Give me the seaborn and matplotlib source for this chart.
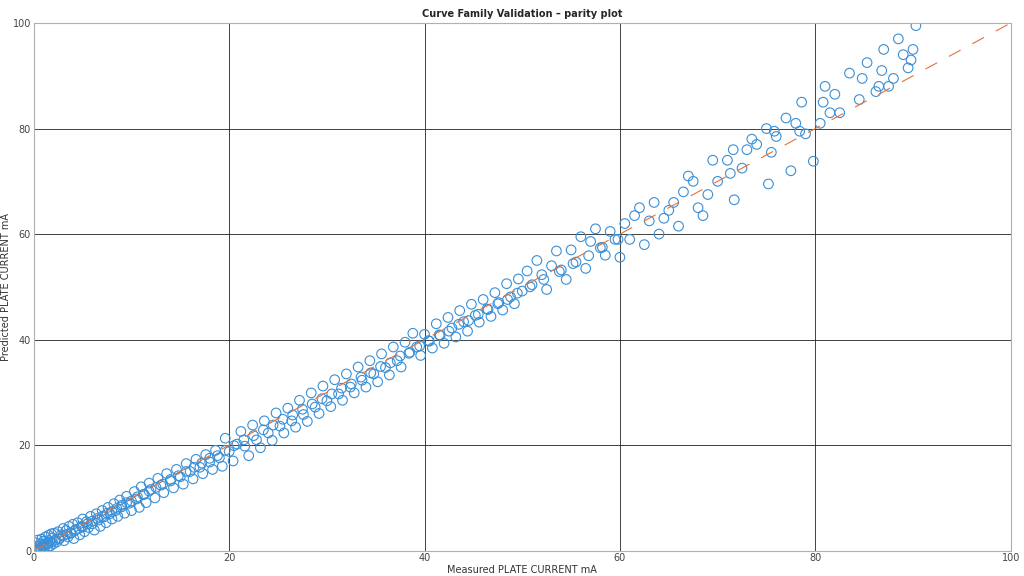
import matplotlib
matplotlib.use("Agg")
import matplotlib.pyplot as plt
import seaborn as sns
import numpy as np

# measured vs predicted plate current (mA)
measured = [
    0.1, 0.2, 0.3, 0.4, 0.5, 0.6, 0.7, 0.8, 0.9, 1.0, 1.1, 1.2, 1.3, 1.4, 1.5, 1.6, 1.7, 1.8, 1.9, 2.0,
    2.1, 2.3, 2.5, 2.6, 2.8, 3.0, 3.1, 3.3, 3.5, 3.6, 3.8, 4.0, 4.1, 4.3, 4.5, 4.7, 4.9, 5.0, 5.2, 5.4,
    5.6, 5.8, 6.0, 6.2, 6.4, 6.6, 6.8, 7.0, 7.2, 7.4, 7.6, 7.8, 8.0, 8.2, 8.4, 8.6, 8.8, 9.0, 9.3, 9.5,
    9.8, 10.0, 10.3, 10.5, 10.8, 11.0, 11.3, 11.5, 11.8, 12.0, 12.4, 12.7, 13.0, 13.3, 13.6, 14.0, 14.3, 14.6,
    15.0, 15.3, 15.6, 16.0, 16.3, 16.6, 17.0, 17.3, 17.6, 18.0, 18.3, 18.6, 19.0, 19.3, 19.6, 20.0, 20.4, 20.8,
    21.2, 21.6, 22.0, 22.4, 22.8, 23.2, 23.6, 24.0, 24.4, 24.8, 25.2, 25.6, 26.0, 26.4, 26.8, 27.2, 27.6, 28.0,
    28.4, 28.8, 29.2, 29.6, 30.0, 30.4, 30.8, 31.2, 31.6, 32.0, 32.4, 32.8, 33.2, 33.6, 34.0, 34.4, 34.8, 35.2,
    35.6, 36.0, 36.4, 36.8, 37.2, 37.6, 38.0, 38.4, 38.8, 39.2, 39.6, 40.0, 40.4, 40.8, 41.2, 41.6, 42.0, 42.4,
    42.8, 43.2, 43.6, 44.0, 44.4, 44.8, 45.2, 45.6, 46.0, 46.4, 46.8, 47.2, 47.6, 48.0, 48.4, 48.8, 49.2, 49.6,
    50.0, 50.5, 51.0, 51.5, 52.0, 52.5, 53.0, 53.5, 54.0, 54.5, 55.0, 55.5, 56.0, 56.5, 57.0, 57.5, 58.0, 58.5,
    59.0, 59.5, 60.0, 60.5, 61.0, 61.5, 62.0, 62.5, 63.0, 63.5, 64.0, 64.5, 65.0, 65.5, 66.0, 66.5, 67.0, 67.5,
    68.0, 68.5, 69.0, 69.5, 70.0, 71.0, 71.3, 71.6, 71.7, 72.5, 73.0, 73.5, 74.0, 75.0, 75.2, 75.5, 75.8, 76.0,
    77.0, 77.5, 78.0, 78.4, 78.6, 79.0, 79.8, 80.5, 80.8, 81.0, 81.5, 82.0, 82.5, 83.5, 84.5, 84.8, 85.3, 86.2,
    86.5, 86.8, 87.0, 87.5, 88.0, 88.5, 89.0, 89.5, 89.8, 90.0, 90.3,
    0.3, 0.6, 0.9, 1.2, 1.5, 1.8, 2.2, 2.6, 3.0, 3.4, 3.8, 4.2, 4.6, 5.0, 5.5, 6.0, 6.5, 7.0, 7.5, 8.0,
    8.5, 9.0, 9.5, 10.0, 10.6, 11.2, 11.8, 12.5, 13.2, 14.0, 14.8, 15.6, 16.4, 17.2, 18.0, 18.8, 19.6, 20.5,
    21.5, 22.5, 23.5, 24.5, 25.5, 26.5, 27.5, 28.5, 29.5, 30.5, 31.5, 32.5, 33.5, 34.5, 35.5, 36.5, 37.5, 38.5,
    39.5, 40.5, 41.5, 42.5, 43.5, 44.5, 45.5, 46.5, 47.5, 48.5, 49.5, 50.8, 52.2, 53.8, 55.2, 56.8, 58.2, 59.8,
]
predicted = [
    0.5, 1.5, 0.2, 2.0, 0.8, 1.2, 0.3, 2.2, 1.0, 1.8, 0.6, 2.6, 1.4, 0.5, 2.9, 1.9, 0.9, 3.2, 2.4, 1.3,
    3.3, 1.6, 3.6, 2.2, 3.0, 4.2, 1.9, 3.8, 2.6, 4.6, 3.3, 5.0, 2.3, 4.0, 5.3, 3.0, 4.6, 6.0, 3.6, 5.5,
    4.4, 6.5, 5.1, 3.9, 7.0, 5.8, 4.6, 7.6, 6.4, 5.3, 8.2, 7.0, 6.0, 8.9, 7.6, 6.5, 9.6, 8.3, 7.1, 10.3,
    9.0, 7.6, 11.2, 9.8, 8.2, 12.1, 10.7, 9.1, 12.8, 11.6, 10.0, 13.7, 12.4, 11.0, 14.6, 13.2, 11.9, 15.4,
    14.0, 12.6, 16.5, 15.0, 13.6, 17.3, 15.8, 14.6, 18.2, 16.8, 15.4, 19.0, 17.6, 16.0, 21.3, 18.8, 17.0, 20.2,
    22.6, 19.8, 18.0, 23.8, 21.0, 19.5, 24.6, 22.3, 20.9, 26.1, 23.6, 22.3, 27.0, 24.6, 23.4, 28.5, 25.8, 24.5,
    29.9, 27.2, 26.0, 31.2, 28.4, 27.3, 32.4, 29.7, 28.5, 33.5, 31.0, 29.9, 34.8, 32.3, 31.0, 36.0, 33.5, 32.0,
    37.3, 34.7, 33.3, 38.6, 36.0, 34.8, 39.5, 37.4, 41.2, 38.6, 37.0, 41.0, 39.8, 38.4, 43.0, 40.8, 39.3, 44.2,
    42.2, 40.5, 45.5, 43.4, 41.6, 46.7, 44.6, 43.3, 47.6, 45.8, 44.4, 48.9, 47.0, 45.6, 50.6, 48.1, 46.8, 51.5,
    49.2, 53.0, 50.4, 55.0, 52.3, 49.5, 54.0, 56.8, 53.2, 51.4, 57.0, 54.7, 59.5, 53.5, 58.6, 61.0, 57.4, 56.0,
    60.5, 59.0, 55.6, 62.0, 59.0, 63.5, 65.0, 58.0, 62.5, 66.0, 60.0, 63.0, 64.5, 66.0, 61.5, 68.0, 71.0, 70.0,
    65.0, 63.5, 67.5, 74.0, 70.0, 74.0, 71.5, 76.0, 66.5, 72.5, 76.0, 78.0, 77.0, 80.0, 69.5, 75.5, 79.5, 78.5,
    82.0, 72.0, 81.0, 79.5, 85.0, 79.0, 73.8, 81.0, 85.0, 88.0, 83.0, 86.5, 83.0, 90.5, 85.5, 89.5, 92.5, 87.0,
    88.0, 91.0, 95.0, 88.0, 89.5, 97.0, 94.0, 91.5, 93.0, 95.0, 99.5,
    0.1, 0.4, 0.7, 1.0, 1.4, 1.6, 2.0, 2.3, 2.8, 3.1, 3.4, 3.8, 4.2, 4.5, 5.1, 5.6, 6.1, 6.5, 7.1, 7.4,
    8.0, 8.6, 9.1, 9.4, 10.2, 10.6, 11.3, 12.0, 12.6, 13.5, 14.2, 15.0, 15.8, 16.6, 17.5, 18.0, 19.0, 19.9,
    21.0, 21.8, 22.9, 23.8, 24.9, 25.7, 26.8, 27.8, 28.8, 29.7, 30.8, 31.6, 32.9, 33.7, 34.9, 35.6, 36.9, 37.6,
    38.8, 39.7, 40.9, 41.6, 42.9, 43.6, 44.8, 45.7, 46.8, 47.6, 48.8, 50.0, 51.4, 52.9, 54.4, 55.9, 57.5, 59.0,
]

sns.set_style("white")
fig, ax = plt.subplots(figsize=(10.24, 5.76), dpi=100)
fig.subplots_adjust(left=0.033, right=0.987, top=0.96, bottom=0.044)

ax.plot([0, 100], [0, 100], color="#e8703a", lw=0.8, dashes=(12, 12))
sns.scatterplot(x=measured, y=predicted, ax=ax, marker="o", s=48,
                facecolors="none", edgecolor="#3a8fd6", linewidth=0.8)

ax.set_xlim(0, 100)
ax.set_ylim(0, 100)
ax.set_xticks([0, 20, 40, 60, 80, 100])
ax.set_yticks([0, 20, 40, 60, 80, 100])
ax.grid(True, color="#222222", lw=0.6)
ax.set_axisbelow(True)
for s in ax.spines.values():
    s.set_color("#b0b0b0")
ax.tick_params(labelsize=7, colors="#444444", length=0, pad=2)
ax.set_xlabel("Measured PLATE CURRENT mA", fontsize=7, color="#333333", labelpad=1)
ax.set_ylabel("Predicted PLATE CURRENT mA", fontsize=7, color="#333333", labelpad=1)
ax.set_title("Curve Family Validation \u2013 parity plot", fontsize=7, fontweight="bold", pad=4)

fig.savefig("out.png", dpi=100)
